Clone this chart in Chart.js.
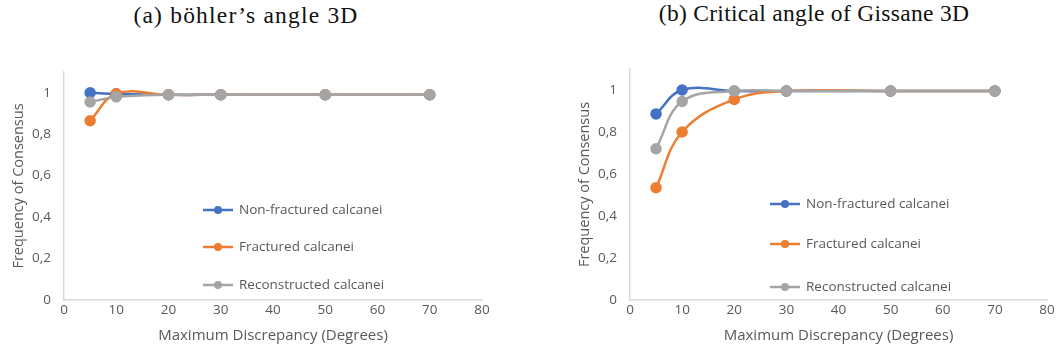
<!DOCTYPE html>
<html>
<head>
<meta charset="utf-8">
<script src="https://cdn.jsdelivr.net/npm/chart.js@4"></script>
<style>
  body { margin: 0; background: #fff; width: 1057px; height: 356px; position: relative; overflow: hidden; }
  .title { position: absolute; top: 2px; font-family: "Liberation Serif", serif; font-size: 23.5px; color: #111; white-space: nowrap; transform: translateX(-50%); }
  .box { position: absolute; top: 40px; height: 316px; }
</style>
</head>
<body>
<div class="title" style="left:246px; letter-spacing:1.2px;">(a) böhler’s angle 3D</div>
<div class="title" style="left:814px; top:0px; letter-spacing:0.3px;">(b) Critical angle of Gissane 3D</div>
<div class="box" style="left:0; width:528px;"><canvas id="chartA"></canvas></div>
<div class="box" style="left:528px; width:529px;"><canvas id="chartB"></canvas></div>
<script>
// shared x values (maximum discrepancy, degrees)
const discrepancy = [5, 10, 20, 30, 50, 70];
const seriesNames = ['Non-fractured calcanei', 'Fractured calcanei', 'Reconstructed calcanei'];
const yTicks = [0, 0.2, 0.4, 0.6, 0.8, 1];

// (a) böhler's angle
const bohlerNonFractured = [1.0, 0.995, 0.99, 0.99, 0.99, 0.99];
const bohlerFractured = [0.865, 0.995, 0.99, 0.99, 0.99, 0.99];
const bohlerReconstructed = [0.955, 0.98, 0.99, 0.99, 0.99, 0.99];

// (b) critical angle of Gissane
const gissaneNonFractured = [0.886, 1.0, 0.995, 0.995, 0.995, 0.995];
const gissaneFractured = [0.535, 0.80, 0.955, 0.995, 0.995, 0.995];
const gissaneReconstructed = [0.72, 0.945, 0.995, 0.995, 0.995, 0.995];

const colors = ['#4472C4', '#ED7D31', '#A5A5A5'];
const textColor = '#595959';
const axisColor = '#D9D9D9';
const font = 'Open Sans';

function makeDataset(i, values) {
    return {
        label: seriesNames[i],
        data: discrepancy.map((x, k) => ({ x: x, y: values[k] })),
        borderColor: colors[i],
        backgroundColor: colors[i],
        borderWidth: 2.5,
        pointRadius: 4.5,
        pointHoverRadius: 4.5,
        tension: 0.4,
        order: 3 - i
    };
}

// draws the legend inside the plot like the Excel original
const innerLegend = {
    id: 'innerLegend',
    afterDraw(chart, args, opts) {
        const ctx = chart.ctx;
        ctx.save();
        ctx.font = '13.5px "' + font + '"';
        ctx.textBaseline = 'middle';
        chart.data.datasets.forEach((ds, i) => {
            const y = opts.y[i];
            ctx.strokeStyle = ds.borderColor;
            ctx.lineWidth = 2.5;
            ctx.beginPath();
            ctx.moveTo(opts.x, y);
            ctx.lineTo(opts.x + 30, y);
            ctx.stroke();
            ctx.fillStyle = ds.borderColor;
            ctx.beginPath();
            ctx.arc(opts.x + 15, y, 4, 0, Math.PI * 2);
            ctx.fill();
            ctx.fillStyle = textColor;
            ctx.fillText(ds.label, opts.x + 36, y);
        });
        ctx.restore();
    }
};

function makeChart(id, values, padding, legendPos) {
    const ctx = document.getElementById(id).getContext('2d');
    return new Chart(ctx, {
        type: 'line',
        data: {
            datasets: values.map((v, i) => makeDataset(i, v))
        },
        options: {
            responsive: true,
            maintainAspectRatio: false,
            animation: false,
            layout: { padding: padding },
            plugins: {
                legend: { display: false },
                tooltip: { enabled: false },
                innerLegend: legendPos
            },
            scales: {
                x: {
                    type: 'linear',
                    min: 0,
                    max: 80,
                    grid: { display: false },
                    border: { display: true, color: axisColor, width: 1.5 },
                    ticks: { stepSize: 10, color: textColor, font: { family: font, size: 13.5 }, padding: -6 },
                    title: { display: true, text: 'Maximum Discrepancy (Degrees)', color: textColor, font: { family: font, size: 15 }, padding: { top: 0, bottom: 0 } },
                    afterFit(scale) { scale.height = 45; }
                },
                y: {
                    min: 0,
                    max: 1.1,
                    grid: { display: false },
                    border: { display: true, color: axisColor, width: 1.5 },
                    afterBuildTicks(scale) { scale.ticks = yTicks.map(v => ({ value: v })); },
                    ticks: {
                        color: textColor,
                        font: { family: font, size: 13.5 },
                        padding: 5,
                        callback: v => String(Math.round(v * 10) / 10).replace('.', ',')
                    },
                    title: { display: true, text: 'Frequency of Consensus', color: textColor, font: { family: font, size: 14.5 }, padding: 0 },
                    afterFit(scale) { scale.width = 54; }
                }
            }
        },
        plugins: [innerLegend]
    });
}

makeChart('chartA', [bohlerNonFractured, bohlerFractured, bohlerReconstructed],
    { left: 10, right: 46, top: 32, bottom: 11 },
    { x: 203, y: [170, 207, 245] });
makeChart('chartB', [gissaneNonFractured, gissaneFractured, gissaneReconstructed],
    { left: 48, right: 10, top: 29, bottom: 11 },
    { x: 242, y: [164, 204, 247] });
</script>
</body>
</html>
